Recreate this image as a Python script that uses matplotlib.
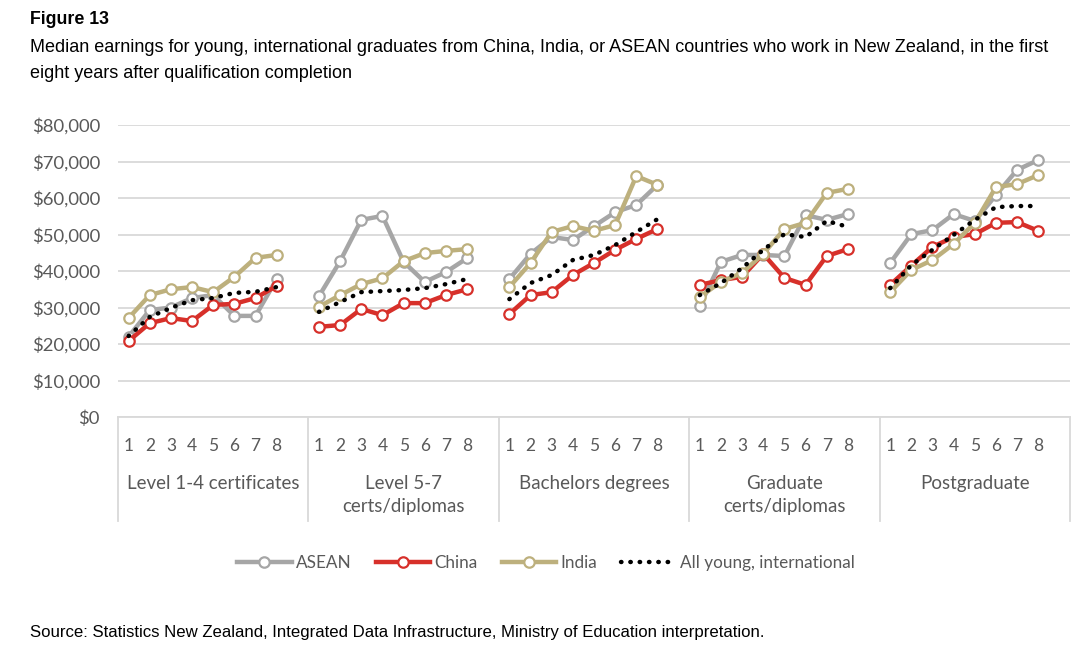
import numpy as np
import matplotlib
matplotlib.use("Agg")
import matplotlib.pyplot as plt
import matplotlib.transforms as mtransforms

# qualification groups, 8 years each
groups = ["Level 1-4 certificates", "Level 5-7\ncerts/diplomas", "Bachelors degrees",
          "Graduate\ncerts/diplomas", "Postgraduate"]
years = ["1", "2", "3", "4", "5", "6", "7", "8"]

asean = [22000, 29300, 30000, 32600, 33400, 27700, 27700, 37800,
         33100, 42700, 54000, 55100, 42500, 37000, 39700, 43500,
         37800, 44700, 49300, 48500, 52300, 56100, 58100, 63600,
         30400, 42500, 44400, 44400, 44100, 55300, 54000, 55600,
         42200, 50100, 51200, 55600, 53700, 60800, 67700, 70400]
china = [20800, 25700, 27100, 26300, 30700, 31000, 32600, 35900,
         24700, 25200, 29600, 27900, 31200, 31200, 33400, 35000,
         28200, 33400, 34200, 38900, 42200, 45800, 48800, 51500,
         36200, 37500, 38400, 44700, 38100, 36200, 44100, 46000,
         36200, 41500, 46600, 49300, 50100, 53200, 53400, 51000]
india = [27100, 33400, 35000, 35600, 34200, 38400, 43600, 44400,
         30200, 33400, 36400, 38000, 42700, 44900, 45500, 46000,
         35600, 42200, 50700, 52300, 51000, 52600, 66000, 63600,
         32900, 37000, 39500, 44700, 51500, 53200, 61400, 62500,
         34200, 40300, 43000, 47400, 53200, 63000, 63800, 66300]
all_young = [22200, 27400, 29900, 32000, 32600, 34000, 34300, 35600,
             28800, 31500, 34200, 34500, 34800, 35300, 36400, 37800,
             32300, 36700, 38900, 43000, 44400, 47100, 50700, 54200,
             33400, 36700, 40800, 45800, 50100, 49300, 53700, 52100,
             35300, 41600, 45800, 49900, 54000, 57500, 57800, 57800]

plt.rcParams['font.family'] = ['Lato', 'DejaVu Sans']

fig = plt.figure(figsize=(10.8, 6.62), dpi=100)
ax = fig.add_axes([118/1080, 1 - 417/662, 952/1080, 292/662])

slots = 9  # 8 years + one empty slot per group
n = len(groups)


def spread(vals):
    # put values into 9-slot groups with a gap so lines break between groups
    out = np.full(n * slots, np.nan)
    for g in range(n):
        out[g*slots:g*slots+8] = vals[g*8:(g+1)*8]
    return out


x = np.arange(n * slots) + 0.5

series = [("ASEAN", asean, "#A6A6A6"), ("China", china, "#D7302A"), ("India", india, "#BDB07D")]
for name, vals, col in series:
    ax.plot(x, spread(vals), color=col, lw=3.2, marker="o", ms=7.5,
            mfc="white", mec=col, mew=1.6, label=name, zorder=3)
ax.plot(x, spread(all_young), color="black", lw=3.2, ls=(0, (0.1, 2.0)),
        dash_capstyle="round", label="All young, international", zorder=4)

ax.set_xlim(0, n * slots)
ax.set_ylim(0, 80000)
ax.set_yticks(np.arange(0, 80001, 10000))
ax.set_yticklabels(["${:,}".format(v) for v in range(0, 80001, 10000)])
ax.grid(axis="y", color="#D9D9D9", lw=1.3)
ax.set_axisbelow(True)
for s in ["top", "right", "left"]:
    ax.spines[s].set_visible(False)
ax.spines["bottom"].set_color("#D9D9D9")
ax.spines["bottom"].set_linewidth(1.3)

tick_pos = [g*slots + i + 0.5 for g in range(n) for i in range(8)]
ax.set_xticks(tick_pos)
ax.set_xticklabels(years * n)
ax.tick_params(axis="both", length=0, colors="#595959")
ax.tick_params(axis="x", pad=15, labelsize=12.5)
ax.tick_params(axis="y", pad=13, labelsize=13.3)

trans = mtransforms.blended_transform_factory(ax.transData, ax.transAxes)
for g in range(n + 1):
    ax.plot([g*slots, g*slots], [0, -0.355], transform=trans, color="#D9D9D9",
            lw=1.3, clip_on=False)
for g, name in enumerate(groups):
    ax.text(g*slots + 4.5, -0.200, name, transform=trans, ha="center", va="top",
            fontsize=13.5, color="#595959", linespacing=1.40)

fig.text(30/1080, 1 - 20/662, "Figure 13", fontsize=12.8, fontweight="bold",
         family="Liberation Sans", va="center")
fig.text(30/1080, 1 - 47/662,
         "Median earnings for young, international graduates from China, India, or ASEAN countries who work in New Zealand, in the first",
         fontsize=13, family="Liberation Sans", va="center")
fig.text(30/1080, 1 - 74/662, "eight years after qualification completion",
         fontsize=13, family="Liberation Sans", va="center")
fig.text(30/1080, 1 - 633/662,
         "Source: Statistics New Zealand, Integrated Data Infrastructure, Ministry of Education interpretation.",
         fontsize=12.1, family="Liberation Sans", va="center")

leg = fig.legend(loc="center", bbox_to_anchor=(546/1080, 1 - 563/662), ncol=4,
                 frameon=False, fontsize=12.3, handlelength=3.2, columnspacing=1.4,
                 handletextpad=0.25)
for t in leg.get_texts():
    t.set_color("#595959")

fig.savefig("out.png", dpi=100)
